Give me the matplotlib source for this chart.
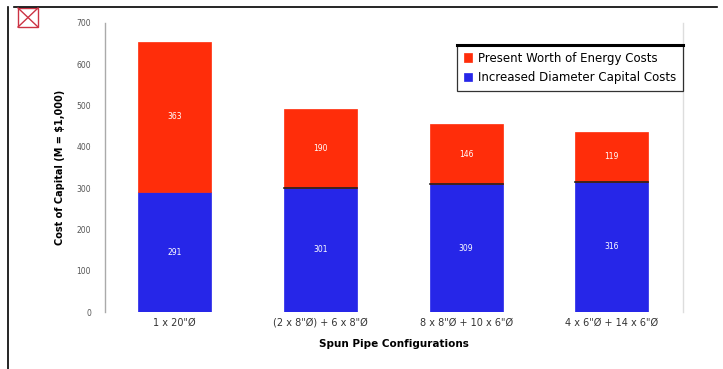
import numpy as np
import matplotlib.pyplot as plt
from matplotlib.patches import Rectangle
from matplotlib.lines import Line2D

categories = ['1 x 20"\u00d8', '(2 x 8"\u00d8) + 6 x 8"\u00d8', '8 x 8"\u00d8 + 10 x 6"\u00d8', '4 x 6"\u00d8 + 14 x 6"\u00d8']
capital = [291, 301, 309, 316]
energy = [363, 190, 146, 119]
series_names = ['Present Worth of Energy Costs', 'Increased Diameter Capital Costs']
yticks = [0, 100, 200, 300, 400, 500, 600, 700]

red = '#ff2d0a'
blue = '#2626e8'

fig = plt.figure(figsize=(7.23, 3.69), dpi=100)
ax = fig.add_axes([0.145, 0.154, 0.800, 0.784])

x = np.arange(len(categories))
b1 = ax.bar(x, capital, width=0.5, color=blue, edgecolor=blue, linewidth=0.5)
b2 = ax.bar(x, energy, width=0.5, bottom=capital, color=red, edgecolor=red, linewidth=0.5)
# thin dark line where the two segments meet
for i in range(1, len(x)):
    ax.plot([x[i] - 0.25, x[i] + 0.25], [capital[i], capital[i]], color='#202020', lw=1.2)

for xi, c, e in zip(x, capital, energy):
    ax.text(xi, c / 2, str(c), ha='center', va='center', color='white', fontsize=5.5)
    ax.text(xi, c + e / 2, str(e), ha='center', va='center', color='white', fontsize=5.5)

ax.set_xlim(-0.48, 3.49)
ax.set_ylim(0, 700)
ax.set_yticks(yticks)
ax.set_yticklabels([str(t) for t in yticks], fontsize=5.5, color='#555555')
ax.set_xticks(x)
ax.set_xticklabels(categories, fontsize=7, color='#333333')
ax.tick_params(axis='x', length=0, pad=4)
ax.tick_params(axis='y', length=0, pad=10)

for s in ['top', 'bottom']:
    ax.spines[s].set_visible(False)
ax.spines['left'].set_color('#aaaaaa')
ax.spines['right'].set_color('#dddddd')
ax.spines['left'].set_linewidth(1.0)
ax.spines['right'].set_linewidth(1.0)

ax.set_xlabel('Spun Pipe Configurations', fontsize=7.5, fontweight='bold', labelpad=8)
ax.set_ylabel('Cost of Capital (M = $1,000)', fontsize=7, fontweight='bold', labelpad=8)

leg = ax.legend([b2, b1], series_names, loc='upper right', bbox_to_anchor=(1.0, 0.925),
                fontsize=8.5, frameon=True, fancybox=False, handlelength=0.7,
                handleheight=0.7, handletextpad=0.5, borderpad=0.6, labelspacing=0.55,
                borderaxespad=0)
leg.get_frame().set_edgecolor('black')
leg.get_frame().set_linewidth(0.9)

# thicker top edge of the legend box
fig.canvas.draw()
bb = leg.get_window_extent().transformed(fig.transFigure.inverted())
fig.add_artist(Line2D([bb.x0, bb.x1], [bb.y1, bb.y1], color='black', lw=2.2))

# page border and broken image icon
fig.add_artist(Line2D([14 / 723, 717 / 723], [1 - 7 / 369, 1 - 7 / 369], color='black', lw=1.2))
fig.add_artist(Line2D([8 / 723, 8 / 723], [0, 1 - 7 / 369], color='black', lw=1.2))
fig.add_artist(Rectangle((18 / 723, 1 - 27 / 369), 20 / 723, 19 / 369, fill=False,
                         edgecolor='#cc3344', lw=1.0))
fig.add_artist(Line2D([18 / 723, 38 / 723], [1 - 27 / 369, 1 - 8 / 369], color='#cc3344', lw=1.0))
fig.add_artist(Line2D([18 / 723, 38 / 723], [1 - 8 / 369, 1 - 27 / 369], color='#cc3344', lw=1.0))

fig.savefig('out.png', dpi=100)
